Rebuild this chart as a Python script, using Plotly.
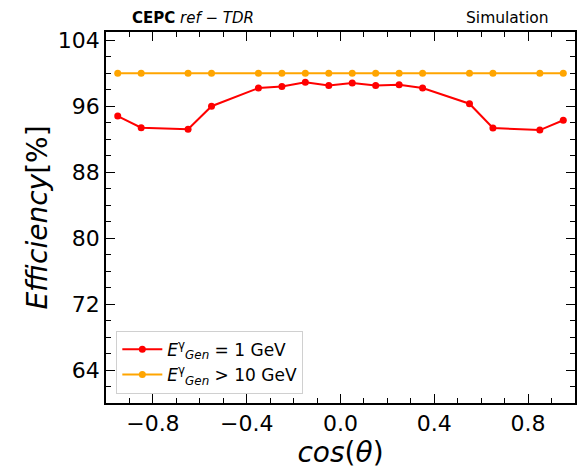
import plotly.graph_objects as go

cos_theta = [-0.95, -0.85, -0.65, -0.55, -0.35, -0.25, -0.15, -0.05,
             0.05, 0.15, 0.25, 0.35, 0.55, 0.65, 0.85, 0.95]
eff_1gev = [94.8, 93.4, 93.2, 96.0, 98.2, 98.4, 98.9, 98.5,
            98.8, 98.5, 98.6, 98.2, 96.3, 93.35, 93.1, 94.3]
eff_10gev = [100.0] * 16

x_ticks = [-0.8, -0.4, 0.0, 0.4, 0.8]
y_ticks = [64, 72, 80, 88, 96, 104]

FONT = "DejaVu Sans"

fig = go.Figure()
fig.add_trace(go.Scatter(
    x=cos_theta, y=eff_1gev, mode="lines+markers",
    line=dict(color="#ff0000", width=2),
    marker=dict(color="#ff0000", size=7),
    name="<i>E</i><sup>γ</sup><sub><i>Gen</i></sub> = 1 GeV"))
fig.add_trace(go.Scatter(
    x=cos_theta, y=eff_10gev, mode="lines+markers",
    line=dict(color="#ffa500", width=2),
    marker=dict(color="#ffa500", size=7),
    name="<i>E</i><sup>γ</sup><sub><i>Gen</i></sub> > 10 GeV"))

axis_common = dict(
    showgrid=False, zeroline=False, showline=True, linecolor="black",
    linewidth=1.5, mirror="ticks", ticks="inside", ticklen=9, tickwidth=1.2,
    tickcolor="black", tickfont=dict(family=FONT, size=22, color="black"),
)

fig.update_xaxes(
    range=[-1.0, 1.0], tickvals=x_ticks,
    ticktext=[f"{v:.1f}".replace("-", "\u2212") for v in x_ticks],
    minor=dict(dtick=0.1, tick0=0, ticks="inside", ticklen=5, tickcolor="black", tickwidth=1),
    title=dict(text="<i>cos</i>(<i>θ</i>)", font=dict(family=FONT, size=28, color="black"), standoff=0),
    **axis_common)
fig.update_yaxes(
    range=[60, 105], tickvals=y_ticks,
    minor=dict(dtick=2, tick0=0, ticks="inside", ticklen=5, tickcolor="black", tickwidth=1),
    title=dict(text="<i>Efficiency</i>[%]", font=dict(family=FONT, size=28, color="black"), standoff=2),
    **axis_common)

fig.update_layout(
    width=580, height=469,
    margin=dict(l=106, r=3, t=32, b=66),
    paper_bgcolor="white", plot_bgcolor="white",
    font=dict(family=FONT, color="black"),
    showlegend=True,
    legend=dict(
        x=0.022, y=0.025, xanchor="left", yanchor="bottom",
        bgcolor="rgba(255,255,255,0.8)", bordercolor="#d0d0d0", borderwidth=1,
        font=dict(family=FONT, size=17, color="black"),
        itemwidth=40, tracegroupgap=2,
    ),
    annotations=[
        dict(text="<b>CEPC</b> <i>ref</i>\u00a0−\u00a0<i>TDR</i>", x=0.185, y=1.008,
             xref="paper", yref="paper", xanchor="center", yanchor="bottom",
             showarrow=False, font=dict(family=FONT, size=15, color="black")),
        dict(text="Simulation", x=0.949, y=1.008, xref="paper", yref="paper",
             xanchor="right", yanchor="bottom", showarrow=False,
             font=dict(family=FONT, size=15.5, color="black")),
    ],
)

fig.write_html("out.html", config={"displayModeBar": False},
               post_script="document.body.style.margin='0px';")
